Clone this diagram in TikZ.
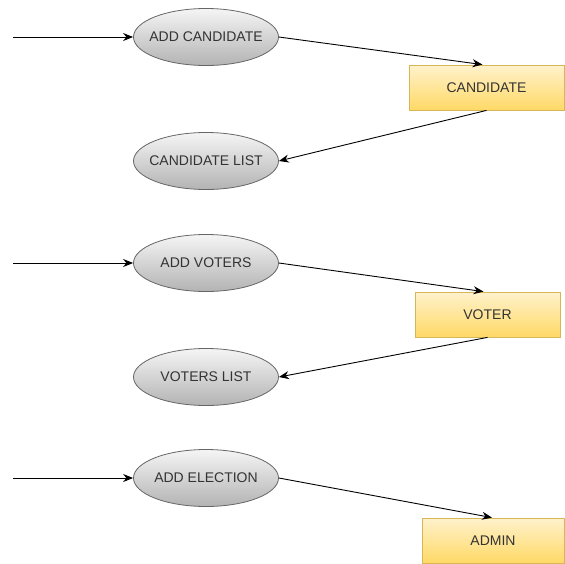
\documentclass[tikz,border=0pt]{standalone}
\usepackage{fontspec}
\setmainfont{Liberation Sans}
\usetikzlibrary{shapes.geometric,arrows.meta}
\definecolor{elltop}{HTML}{F5F5F5}
\definecolor{ellbot}{HTML}{B3B3B3}
\definecolor{elldraw}{HTML}{666666}
\definecolor{boxtop}{HTML}{FFF2CC}
\definecolor{boxbot}{HTML}{FFD966}
\definecolor{boxdraw}{HTML}{D6B656}
\definecolor{txt}{HTML}{333333}
\newcommand{\ztxt}[1]{\makebox[0pt]{#1}}
\tikzset{
  proc/.style={ellipse, draw=elldraw, line width=0.8pt, top color=elltop, bottom color=ellbot,
    minimum width=145pt, minimum height=57pt, inner sep=0pt, text=txt, font=\fontsize{14pt}{15pt}\selectfont},
  store/.style={rectangle, draw=boxdraw, line width=0.8pt, top color=boxtop, bottom color=boxbot,
    minimum height=45pt, inner sep=0pt, text=txt, font=\fontsize{14pt}{15pt}\selectfont},
  flow/.style={draw=black, line width=0.9pt, -{Stealth[length=10pt,width=8pt]}}
}
\begin{document}
\begin{tikzpicture}[x=1pt,y=-1pt]
\useasboundingbox (0,0) rectangle (565,563);
% processes
\node[proc] (ac) at (206,37) {\ztxt{ADD CANDIDATE}};
\node[proc] (cl) at (206,161) {\ztxt{CANDIDATE LIST}};
\node[proc] (av) at (206,263) {\ztxt{ADD VOTERS}};
\node[proc] (vl) at (206,377) {\ztxt{VOTERS LIST}};
\node[proc] (ae) at (206,478) {\ztxt{ADD ELECTION}};
% stores
\node[store, minimum width=155pt] (cand) at (486.5,87.5) {CANDIDATE};
\node[store, minimum width=145pt] (voter) at (487.5,314.5) {VOTER};
\node[store, minimum width=142pt] (admin) at (493,540.5) {ADMIN};
% free ends
\coordinate (s1) at (13,37);
\coordinate (s2) at (13,263);
\coordinate (s3) at (13,478);
% connectors
\draw[flow] (s1) -- (ac.west);
\draw[flow] (ac.east) -- ([xshift=-4pt]cand.north);
\draw[flow] (cand.south) -- (cl.east);
\draw[flow] (s2) -- (av.west);
\draw[flow] (av.east) -- ([xshift=-4pt]voter.north);
\draw[flow] (voter.south) -- (vl.east);
\draw[flow] (s3) -- (ae.west);
\draw[flow] (ae.east) -- ([xshift=-1pt]admin.north);
\end{tikzpicture}
\end{document}
